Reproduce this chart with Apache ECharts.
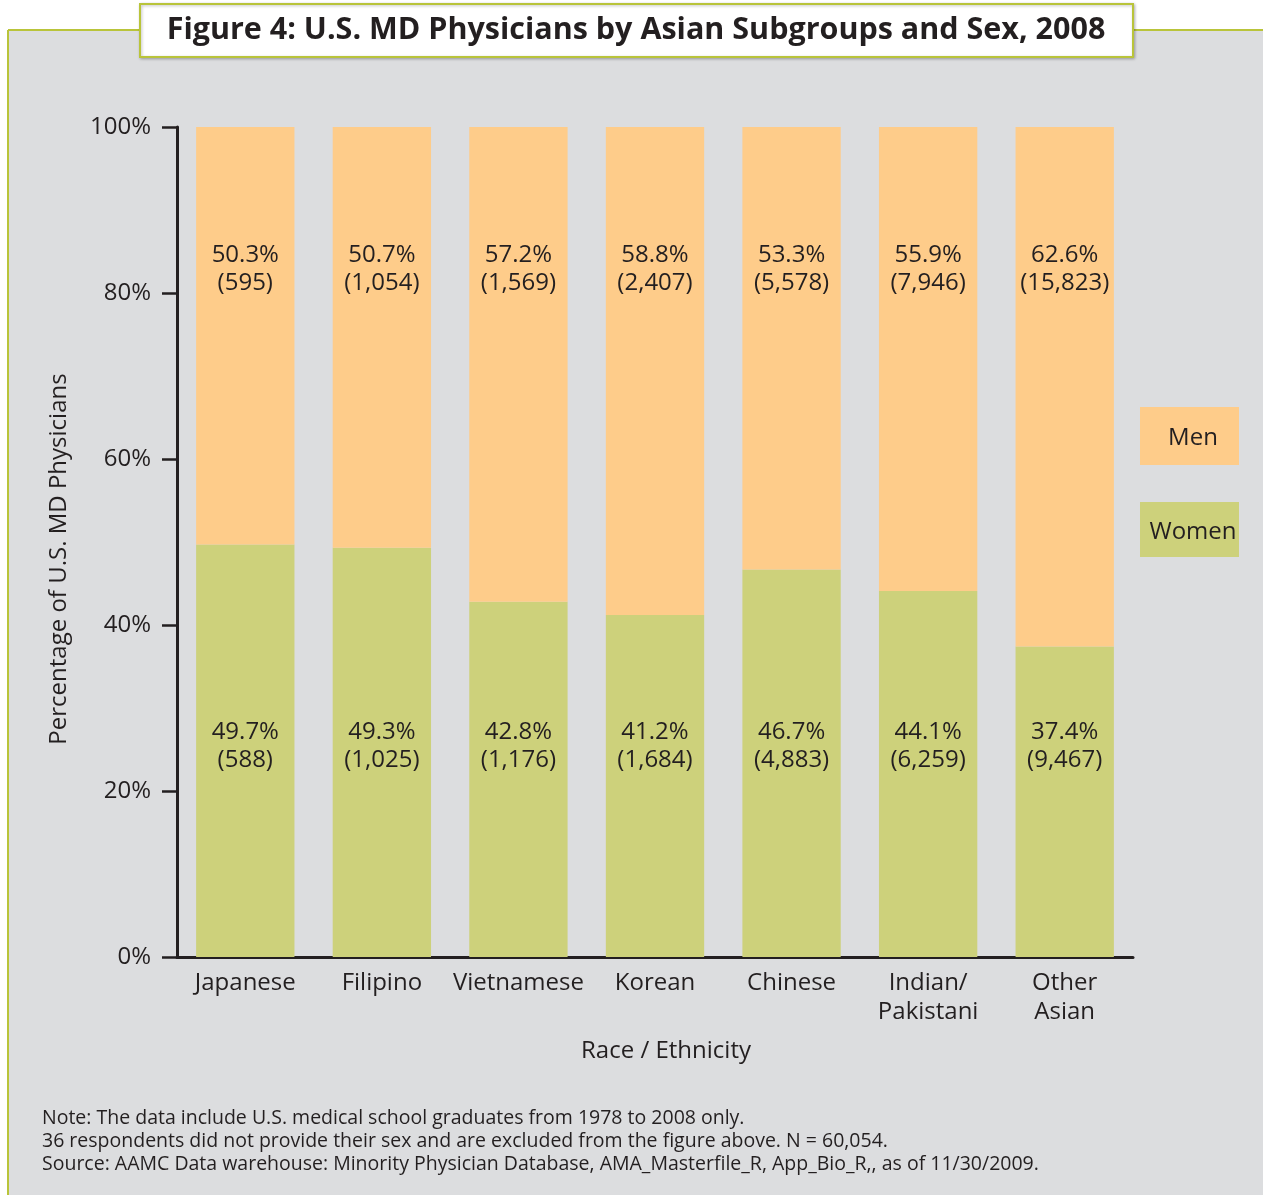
<!DOCTYPE html>
<html>
<head>
<meta charset="utf-8">
<script src="https://cdn.jsdelivr.net/npm/echarts@6/dist/echarts.min.js"></script>
<style>
  html, body { margin: 0; padding: 0; background: #ffffff; }
  #main { width: 1263px; height: 1195px; }
</style>
</head>
<body>
<div id="main"></div>
<script>
// categories and values
var groups = ['Japanese', 'Filipino', 'Vietnamese', 'Korean', 'Chinese', 'Indian/\nPakistani', 'Other\nAsian'];
var womenPct = [49.7, 49.3, 42.8, 41.2, 46.7, 44.1, 37.4];
var womenCount = [588, 1025, 1176, 1684, 4883, 6259, 9467];
var menPct = [50.3, 50.7, 57.2, 58.8, 53.3, 55.9, 62.6];
var menCount = [595, 1054, 1569, 2407, 5578, 7946, 15823];
var yTicks = [0, 20, 40, 60, 80, 100];
var seriesNames = ['Men', 'Women'];

var ink = '#231f20';
var frame = '#b9c43a';
var colMen = '#fecc8a';
var colWomen = '#cdd17b';
var font = '"Open Sans", "Noto Sans", sans-serif';

function fmtCount(n) {
    return n.toString().replace(/\B(?=(\d{3})+(?!\d))/g, ',');
}

var myChart = echarts.init(document.getElementById('main'));

var option = {
    backgroundColor: '#ffffff',
    animation: false,
    graphic: [
        // grey panel with the green-yellow frame on top and left
        { type: 'rect', z: -10, shape: { x: 8, y: 30, width: 1263, height: 1200 },
          style: { fill: '#dcdddf' } },
        { type: 'line', z: -9, shape: { x1: 8, y1: 30, x2: 1263, y2: 30 },
          style: { stroke: frame, lineWidth: 2 } },
        { type: 'line', z: -9, shape: { x1: 8, y1: 30, x2: 8, y2: 1195 },
          style: { stroke: frame, lineWidth: 2 } },
        // title box
        { type: 'rect', z: 10, shape: { x: 140, y: 4, width: 993, height: 53 },
          style: { fill: '#ffffff', stroke: frame, lineWidth: 2,
                   shadowColor: 'rgba(0,0,0,0.25)', shadowBlur: 3, shadowOffsetX: 1, shadowOffsetY: 1 } },
        { type: 'text', z: 11, x: 636, y: 30,
          style: { text: 'Figure 4: U.S. MD Physicians by Asian Subgroups and Sex, 2008',
                   fill: ink, font: 'bold 30.5px ' + font, align: 'center', verticalAlign: 'middle' } },
        // legend boxes
        { type: 'rect', shape: { x: 1140, y: 407, width: 99, height: 58 }, style: { fill: colMen } },
        { type: 'text', x: 1193, y: 438,
          style: { text: seriesNames[0], fill: ink, font: '24px ' + font, align: 'center', verticalAlign: 'middle' } },
        { type: 'rect', shape: { x: 1140, y: 502, width: 99, height: 55 }, style: { fill: colWomen } },
        { type: 'text', x: 1193, y: 532,
          style: { text: seriesNames[1], fill: ink, font: '24px ' + font, align: 'center', verticalAlign: 'middle' } },
        // notes
        { type: 'text', x: 42, y: 1107,
          style: { text: 'Note: The data include U.S. medical school graduates from 1978 to 2008 only.\n' +
                         '36 respondents did not provide their sex and are excluded from the figure above. N = 60,054.\n' +
                         'Source: AAMC Data warehouse: Minority Physician Database, AMA_Masterfile_R, App_Bio_R,, as of 11/30/2009.',
                   fill: ink, font: '19.5px ' + font, lineHeight: 23 } }
    ],
    grid: { left: 177, right: 130, top: 127, bottom: 238 },
    xAxis: {
        type: 'category',
        data: groups,
        name: 'Race / Ethnicity',
        nameLocation: 'middle',
        nameGap: 82,
        nameTextStyle: { color: ink, fontSize: 24, fontFamily: font, padding: [0, 0, 0, 22] },
        axisLine: { lineStyle: { color: ink, width: 3 } },
        axisTick: { show: false },
        axisLabel: { color: ink, fontSize: 24, fontFamily: font, margin: 12, lineHeight: 29, interval: 0 }
    },
    yAxis: {
        type: 'value',
        min: 0,
        max: 100,
        interval: 20,
        name: 'Percentage of U.S. MD Physicians',
        nameLocation: 'middle',
        nameGap: 106,
        nameTextStyle: { color: ink, fontSize: 24, fontFamily: font, padding: [0, 34, 0, 0] },
        splitLine: { show: false },
        axisLine: { show: true, lineStyle: { color: ink, width: 3 } },
        axisTick: { show: true, length: 15, lineStyle: { color: ink, width: 2.5 } },
        axisLabel: {
            color: ink, fontSize: 24, fontFamily: font, margin: 26,
            formatter: function (v) { return yTicks.indexOf(v) >= 0 ? v + '%' : ''; }
        }
    },
    series: [
        {
            name: seriesNames[1],
            type: 'bar',
            stack: 'sex',
            barWidth: '72%',
            itemStyle: { color: colWomen },
            label: {
                show: true,
                position: 'insideBottom',
                distance: 183,
                color: ink, fontSize: 24, fontFamily: font, lineHeight: 28,
                formatter: function (p) {
                    return womenPct[p.dataIndex].toFixed(1) + '%\n(' + fmtCount(womenCount[p.dataIndex]) + ')';
                }
            },
            data: womenPct
        },
        {
            name: seriesNames[0],
            type: 'bar',
            stack: 'sex',
            barWidth: '72%',
            itemStyle: { color: colMen },
            label: {
                show: true,
                position: 'insideTop',
                distance: 114,
                color: ink, fontSize: 24, fontFamily: font, lineHeight: 28,
                formatter: function (p) {
                    return menPct[p.dataIndex].toFixed(1) + '%\n(' + fmtCount(menCount[p.dataIndex]) + ')';
                }
            },
            data: menPct
        }
    ]
};

myChart.setOption(option);
</script>
</body>
</html>
